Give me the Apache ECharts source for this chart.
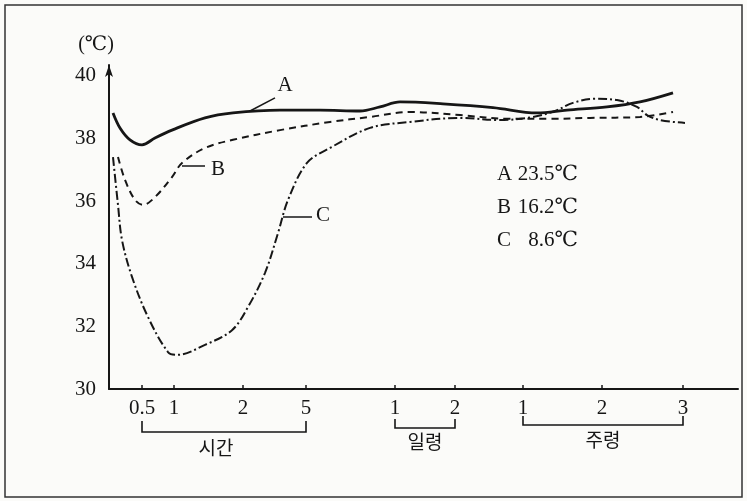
<!DOCTYPE html>
<html>
<head>
<meta charset="utf-8">
<script src="https://cdn.jsdelivr.net/npm/echarts@6/dist/echarts.min.js"></script>
<style>
html,body{margin:0;padding:0;background:#fbfbf9;}
#main{width:747px;height:501px;}
</style>
</head>
<body>
<div id="main"></div>
<script>
// ---- data (x in axis position units, y in °C) ----
const xTickPos = [3.3, 6.5, 13.4, 19.7, 28.6, 34.6, 41.4, 49.3, 57.4];
const xTickLabels = ['0.5', '1', '2', '5', '1', '2', '1', '2', '3'];
const groupNames = ['시간', '일령', '주령'];
const groupStartTick = [0, 4, 6];
const groupEndTick = [3, 5, 8];
const yTicks = [30, 32, 34, 36, 38, 40];
const yUnit = '(℃)';

const seriesA = [
  [0.4, 38.82], [1.1, 38.34], [2.1, 37.96], [3.3, 37.80], [4.6, 38.02], [6.3, 38.27],
  [9.6, 38.66], [12.4, 38.82], [17.1, 38.91], [21.1, 38.91], [25.1, 38.88], [27.1, 39.01],
  [29.1, 39.17], [33.4, 39.11], [38.4, 38.99], [42.8, 38.82], [45.8, 38.91], [49.8, 39.01],
  [53.1, 39.17], [56.4, 39.46]
];
const seriesB = [
  [0.9, 37.41], [1.6, 36.68], [2.6, 36.04], [3.4, 35.88], [4.6, 36.13], [6.3, 36.77],
  [7.3, 37.22], [9.6, 37.70], [12.4, 37.96], [17.1, 38.27], [22.1, 38.53], [26.1, 38.69],
  [30.1, 38.85], [35.1, 38.75], [40.1, 38.63], [44.1, 38.63], [48.1, 38.66], [53.1, 38.69],
  [56.4, 38.85]
];
const seriesC = [
  [0.4, 37.41], [0.9, 35.88], [1.3, 34.76], [2.3, 33.58], [3.9, 32.30], [5.9, 31.18],
  [6.8, 31.09], [9.6, 31.41], [12.3, 31.88], [13.9, 32.62], [15.6, 33.71], [16.9, 34.98],
  [17.9, 36.04], [19.8, 37.22], [22.1, 37.70], [26.1, 38.34], [30.1, 38.53], [35.1, 38.66],
  [39.1, 38.59], [42.4, 38.69], [44.6, 38.88], [46.4, 39.14], [48.6, 39.27], [50.8, 39.23],
  [52.8, 39.01], [53.8, 38.75], [55.1, 38.59], [57.6, 38.50]
];
const seriesNames = ['A', 'B', 'C'];
const seriesTemps = ['23.5℃', '16.2℃', '8.6℃'];
// leader lines: [start, end] and label anchor, in data units
const leaderA = [[14.1, 38.88], [16.6, 39.30]];
const leaderB = [[7.3, 37.12], [9.6, 37.12]];
const leaderC = [[17.4, 35.50], [20.3, 35.50]];
const labelAtA = [17.6, 39.71];
const labelAtB = [10.9, 37.0];
const labelAtC = [21.4, 35.53];

// ---- rendering ----
const INK = '#161616';
const SERIF = '"Liberation Serif","DejaVu Serif",serif';
const KR = '"Noto Sans CJK KR","Noto Sans",sans-serif';

const chart = echarts.init(document.getElementById('main'), null, {renderer: 'canvas'});

function leader(pts) {
  return {
    silent: true, symbol: 'none', animation: false,
    lineStyle: {color: INK, width: 1.5, type: 'solid'},
    label: {show: false},
    emphasis: {disabled: true},
    data: [[{coord: pts[0]}, {coord: pts[1]}]]
  };
}
function tag(at, name) {
  return {
    silent: true, symbol: 'circle', symbolSize: 1, animation: false,
    itemStyle: {color: 'rgba(0,0,0,0)'},
    label: {show: true, position: 'inside', formatter: name, color: INK,
            fontFamily: SERIF, fontSize: 21},
    data: [{coord: at}]
  };
}

chart.setOption({
  animation: false,
  backgroundColor: '#fbfbf9',
  grid: {left: 109, right: 9, top: 65, bottom: 112, containLabel: false},
  xAxis: {
    type: 'value', min: 0, max: 62.9,
    axisLine: {show: true, lineStyle: {color: INK, width: 2}},
    axisTick: {show: true, inside: true, length: 4, customValues: xTickPos,
               lineStyle: {color: INK, width: 1.5}},
    axisLabel: {
      show: true, customValues: xTickPos, margin: 9,
      color: INK, fontFamily: SERIF, fontSize: 21,
      formatter: function (v) {
        let best = 0, d = 1e9;
        xTickPos.forEach((p, i) => { if (Math.abs(p - v) < d) { d = Math.abs(p - v); best = i; } });
        return xTickLabels[best];
      }
    },
    splitLine: {show: false}
  },
  yAxis: {
    type: 'value', min: 30, max: 40.35,
    axisLine: {show: true, lineStyle: {color: INK, width: 2},
               symbol: ['none', 'arrow'], symbolSize: [6, 12]},
    axisTick: {show: false},
    axisLabel: {show: true, customValues: yTicks, margin: 13, color: INK,
                fontFamily: SERIF, fontSize: 21},
    splitLine: {show: false}
  },
  series: [
    {name: 'A', type: 'line', data: seriesA, smooth: 0.35, symbol: 'none',
     lineStyle: {color: INK, width: 2.8, type: 'solid'},
     markLine: leader(leaderA), markPoint: tag(labelAtA, 'A')},
    {name: 'B', type: 'line', data: seriesB, smooth: 0.35, symbol: 'none',
     lineStyle: {color: INK, width: 2, type: [7, 5]},
     markLine: leader(leaderB), markPoint: tag(labelAtB, 'B')},
    {name: 'C', type: 'line', data: seriesC, smooth: 0.35, symbol: 'none',
     lineStyle: {color: INK, width: 2, type: [9, 3, 2, 3]},
     markLine: leader(leaderC), markPoint: tag(labelAtC, 'C')}
  ]
});

// annotations built from the chart's own scale
const axisY = chart.convertToPixel({gridIndex: 0}, [0, 30])[1];
const topY = chart.convertToPixel({gridIndex: 0}, [0, 40])[1];
const graphics = [];
// outer frame
graphics.push({type: 'rect', shape: {x: 5, y: 5, width: 737, height: 492},
  style: {fill: 'none', stroke: '#333', lineWidth: 1.5}, silent: true});
// unit
graphics.push({type: 'text', x: 96, y: topY - 31,
  style: {text: yUnit, fill: INK, font: '20px ' + SERIF, textAlign: 'center', textVerticalAlign: 'middle'}});
// group brackets
const bracketTop = [32, 30, 27];
const bracketBot = [43, 39, 36];
const groupTextY = [59, 53, 51];
groupNames.forEach((g, i) => {
  const x1 = chart.convertToPixel({gridIndex: 0}, [xTickPos[groupStartTick[i]], 30])[0];
  const x2 = chart.convertToPixel({gridIndex: 0}, [xTickPos[groupEndTick[i]], 30])[0];
  const t = axisY + bracketTop[i], b = axisY + bracketBot[i];
  graphics.push({type: 'polyline', shape: {points: [[x1, t], [x1, b], [x2, b], [x2, t]]},
    style: {fill: 'none', stroke: INK, lineWidth: 1.6}, silent: true});
  graphics.push({type: 'text', x: (x1 + x2) / 2 - (i === 0 ? 8 : 0), y: axisY + groupTextY[i],
    style: {text: g, fill: INK, font: '19px ' + KR, textAlign: 'center', textVerticalAlign: 'middle'}});
});
// temperature key
const keyRowY = [36.84, 35.81, 34.76];
seriesNames.forEach((n, i) => {
  const p = chart.convertToPixel({gridIndex: 0}, [38.8, keyRowY[i]]);
  graphics.push({type: 'text', x: p[0], y: p[1],
    style: {text: n, fill: INK, font: '21px ' + SERIF, textAlign: 'left', textVerticalAlign: 'middle'}});
  graphics.push({type: 'text', x: p[0] + 81, y: p[1],
    style: {text: seriesTemps[i], fill: INK, font: '21px ' + SERIF, textAlign: 'right', textVerticalAlign: 'middle'}});
});
chart.setOption({graphic: graphics});
</script>
</body>
</html>
